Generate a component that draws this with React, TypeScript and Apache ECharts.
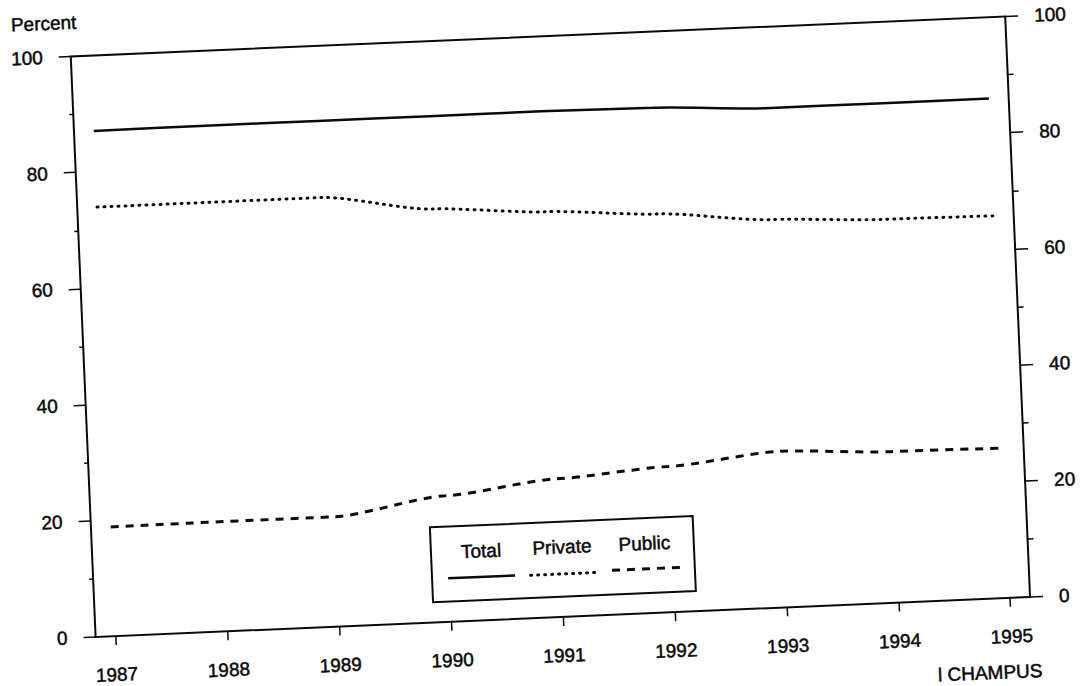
import React, { useEffect, useRef } from "react";
import * as echarts from "echarts";

const YEARS = [1987, 1988, 1989, 1990, 1991, 1992, 1993, 1994, 1995];
const TOTAL = [87.0, 87.1, 87.1, 87.1, 87.1, 86.9, 86.0, 86.0, 86.0];
const PRIVATE = [73.9, 73.9, 73.9, 71.1, 69.8, 68.6, 66.8, 66.0, 65.8];
const PUBLIC = [18.8, 18.9, 18.9, 21.7, 23.8, 25.1, 26.9, 26.0, 25.8];
const SERIES_NAMES = ["Total", "Private", "Public"];
const Y_AXIS_TITLE = "Percent";
const FOOTNOTE = "l CHAMPUS";

const FONT = "'Liberation Sans', Arial, Helvetica, sans-serif";
const INK = "#0a0a0a";

const DOTTED = [1, 6];
const DASHED = [8, 7];

export default function App() {
  const ref = useRef<HTMLDivElement>(null);

  useEffect(() => {
    if (!ref.current) return;
    const chart = echarts.init(ref.current, null, { renderer: "svg" });
    const pairs = (vals: number[]) => YEARS.map((y, i) => [y, vals[i]]);
    const label = {
      fontSize: 19,
      color: INK,
      fontFamily: FONT,
      textBorderColor: INK,
      textBorderWidth: 0.5,
    };
    const textStyle = (text: string) => ({
      text,
      fill: INK,
      fontSize: 19,
      fontFamily: FONT,
      stroke: INK,
      lineWidth: 0.5,
      align: "center",
      verticalAlign: "middle",
      textAlign: "center",
      textVerticalAlign: "middle",
    });
    const legendText = (text: string, x: number, y: number) => ({
      type: "text",
      x,
      y,
      style: textStyle(text),
    });
    const legendLine = (x1: number, x2: number, y: number, dash: any, cap: string) => ({
      type: "line",
      shape: { x1, y1: y, x2, y2: y },
      style: {
        stroke: INK,
        lineWidth: dash ? 3 : 2.5,
        lineDash: dash || null,
        lineCap: cap,
        fill: null,
      },
    });

    chart.setOption({
      animation: false,
      backgroundColor: "#fff",
      textStyle: { fontFamily: FONT },
      grid: {
        left: 82.75,
        top: 76,
        width: 945,
        height: 581,
        show: true,
        borderColor: INK,
        borderWidth: 2,
        backgroundColor: "transparent",
      },
      xAxis: {
        type: "value",
        min: 1986.823,
        max: 1995.177,
        axisLine: { show: false },
        splitLine: { show: false },
        axisTick: {
          show: true,
          customValues: YEARS,
          length: 9,
          lineStyle: { color: INK, width: 1.5 },
        },
        axisLabel: {
          ...label,
          customValues: YEARS,
          margin: 29,
          formatter: (v: number) => String(Math.round(v)),
        },
      },
      yAxis: [
        {
          type: "value",
          position: "left",
          min: 0,
          max: 100,
          interval: 20,
          axisLine: { show: false },
          splitLine: { show: false },
          axisTick: { show: true, length: 12, lineStyle: { color: INK, width: 1.5 } },
          minorTick: { show: true, splitNumber: 2, length: 4, lineStyle: { color: INK, width: 1.5 } },
          minorSplitLine: { show: false },
          axisLabel: { ...label, margin: 28 },
        },
        {
          type: "value",
          position: "right",
          min: 0,
          max: 100,
          interval: 20,
          axisLine: { show: false },
          splitLine: { show: false },
          axisTick: { show: true, length: 13, lineStyle: { color: INK, width: 1.5 } },
          minorTick: { show: true, splitNumber: 2, length: 6, lineStyle: { color: INK, width: 1.5 } },
          minorSplitLine: { show: false },
          axisLabel: { ...label, margin: 29 },
        },
      ],
      series: [
        {
          name: SERIES_NAMES[0],
          type: "line",
          data: pairs(TOTAL),
          showSymbol: false,
          symbol: "none",
          smooth: 0.25,
          smoothMonotone: "x",
          lineStyle: { color: INK, width: 2.5, type: "solid" },
        },
        {
          name: SERIES_NAMES[1],
          type: "line",
          data: pairs(PRIVATE),
          showSymbol: false,
          symbol: "none",
          smooth: 0.25,
          smoothMonotone: "x",
          lineStyle: { color: INK, width: 3, type: DOTTED, cap: "round" },
        },
        {
          name: SERIES_NAMES[2],
          type: "line",
          data: pairs(PUBLIC),
          showSymbol: false,
          symbol: "none",
          smooth: 0.25,
          smoothMonotone: "x",
          lineStyle: { color: INK, width: 3, type: DASHED, cap: "butt" },
        },
      ],
      graphic: {
        elements: [
          { type: "text", x: 57, y: 42, style: textStyle(Y_AXIS_TITLE) },
          {
            type: "rect",
            shape: { x: 421.4, y: 561.8, width: 263, height: 75 },
            style: { stroke: INK, lineWidth: 2, fill: "#fff" },
            z: 10,
          },
          { ...legendText(SERIES_NAMES[0], 471.5, 587.5), z: 11 },
          { ...legendText(SERIES_NAMES[1], 552.5, 587), z: 11 },
          { ...legendText(SERIES_NAMES[2], 635, 587), z: 11 },
          { ...legendLine(437.5, 504.5, 613.5, null, "butt"), z: 11 },
          { ...legendLine(520, 586, 614, DOTTED, "round"), z: 11 },
          { ...legendLine(601.5, 669.5, 612.5, DASHED, "butt"), z: 11 },
          { type: "text", x: 975, y: 731, style: textStyle(FOOTNOTE) },
        ],
      },
    });
    return () => chart.dispose();
  }, []);

  return (
    <div
      style={{
        position: "fixed",
        left: 0,
        top: 0,
        width: 1082,
        height: 686,
        overflow: "hidden",
        background: "#fff",
      }}
    >
      <div
        ref={ref}
        style={{
          position: "absolute",
          left: 0,
          top: -40,
          width: 1082,
          height: 766,
          transform: "rotate(-2.45deg)",
          transformOrigin: "555.25px 366.5px",
        }}
      />
    </div>
  );
}
